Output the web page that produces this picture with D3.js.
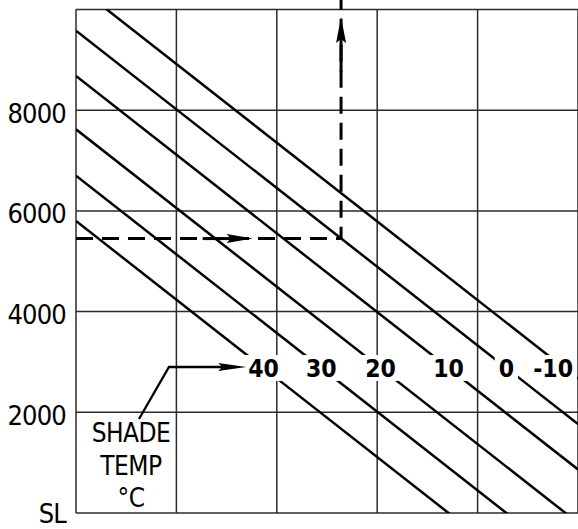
<!DOCTYPE html>
<html>
<head>
<meta charset="utf-8">
<script src="https://cdn.jsdelivr.net/npm/d3@7"></script>
<style>
  body { margin: 0; background: #fff; }
  svg { display: block; }
  text { font-family: "DejaVu Sans Condensed", "DejaVu Sans", sans-serif; font-stretch: condensed; fill: #000; }
</style>
</head>
<body>
<div id="chart"></div>
<script>
// altitude ticks (ft), SL = sea level
const altTicks = [0, 2000, 4000, 6000, 8000];
const altLabels = ["SL", "2000", "4000", "6000", "8000"];
const gridAlts = [0, 2000, 4000, 6000, 8000, 10000];
const gridCols = [0, 1, 2, 3, 4, 5];

// shade temperature lines (°C): altitude at left edge (col 0) and right edge (col 5)
const temps = [40, 30, 20, 10, 0, -10];
const altAtLeft = [5800, 6700, 7620, 8680, 9580, 10480];
const altAtRight = [-2015, -1115, -195, 865, 1765, 2665];
const labelAlt = 2880;

// example reading (dashed)
const readAlt = 5450;
const readCol = 2.64;
const hArrowCol = 1.76;
const vArrowAlt = 9850;

const W = 578, H = 529;
const margin = {top: 9.5, right: 0, bottom: 16, left: 76};

const svg = d3.select("#chart")
  .append("svg")
  .attr("width", W)
  .attr("height", H);

const x = d3.scaleLinear().domain([0, 5]).range([margin.left, W - margin.right]);
const y = d3.scaleLinear().domain([0, 10000]).range([H - margin.bottom, margin.top]);

// grid
svg.append("g")
  .selectAll("line")
  .data(gridAlts)
  .join("line")
  .attr("x1", x(0)).attr("x2", x(5))
  .attr("y1", d => y(d)).attr("y2", d => y(d))
  .attr("stroke", "#2b2b2b").attr("stroke-width", 1.5);

svg.append("g")
  .selectAll("line")
  .data(gridCols)
  .join("line")
  .attr("x1", d => x(d)).attr("x2", d => x(d))
  .attr("y1", y(0)).attr("y2", y(10000))
  .attr("stroke", "#2b2b2b").attr("stroke-width", 1.5);

// tick labels
svg.append("g")
  .selectAll("text")
  .data(altTicks)
  .join("text")
  .attr("x", x(0) - 10)
  .attr("y", d => Math.min(y(d) + 12.5, H - 6))
  .attr("text-anchor", "end")
  .style("font-size", "27px")
  .style("letter-spacing", "-0.8px")
  .text((d, i) => altLabels[i]);

// clip for diagonal lines
svg.append("clipPath").attr("id", "plot")
  .append("rect")
  .attr("x", x(0)).attr("y", y(10000))
  .attr("width", x(5) - x(0)).attr("height", y(0) - y(10000));

const lineData = temps.map((t, i) => ({t: t, a0: altAtLeft[i], a1: altAtRight[i]}));

svg.append("g")
  .attr("clip-path", "url(#plot)")
  .selectAll("line")
  .data(lineData)
  .join("line")
  .attr("x1", x(0)).attr("y1", d => y(d.a0))
  .attr("x2", x(5)).attr("y2", d => y(d.a1))
  .attr("stroke", "#000").attr("stroke-width", 2.5);

// temperature labels sitting on their lines
const fs = 24.5, capH = 0.73 * fs;
const lab = svg.append("g");
lineData.forEach(d => {
  const col = (d.a0 - labelAlt) / (d.a0 - d.a1) * 5;
  const g = lab.append("g");
  const bg = g.append("rect").attr("fill", "#fff");
  const txt = g.append("text")
    .attr("text-anchor", "middle")
    .style("font-size", fs + "px")
    .style("font-weight", "bold")
    .text(d.t);
  const w = txt.node().getComputedTextLength();
  const cx = Math.min(x(col), W - w / 2 - 5);
  const base = y(labelAlt) + capH / 2;
  txt.attr("x", cx).attr("y", base);
  bg.attr("x", cx - w / 2 - 4).attr("y", base - capH - 4)
    .attr("width", w + 8).attr("height", capH + 8);
  d.labelLeft = cx - w / 2;
});

// arrowhead helper (tip at 0,0 pointing right)
function arrowHead(g, tx, ty, angle, len, half) {
  g.append("path")
    .attr("d", `M0,0 L${-len},${-half} L${-len + 4},0 L${-len},${half} Z`)
    .attr("transform", `translate(${tx},${ty}) rotate(${angle})`)
    .attr("fill", "#000");
}

// leader from SHADE TEMP note to the 40 label
const lead = svg.append("g");
const tipX = lineData[0].labelLeft - 2;
const tipY = y(labelAlt) - 1;
lead.append("path")
  .attr("d", `M139,419 L169,${tipY} L${tipX - 20},${tipY}`)
  .attr("fill", "none").attr("stroke", "#000").attr("stroke-width", 2.3);
arrowHead(lead, tipX, tipY, 0, 28, 4);

// note text
const note = svg.append("text")
  .attr("text-anchor", "middle")
  .style("font-size", "26px")
  .style("letter-spacing", "-0.5px");
note.selectAll("tspan")
  .data(["SHADE", "TEMP", "°C"])
  .join("tspan")
  .attr("x", 131)
  .attr("y", (d, i) => 442 + i * 32.5)
  .text(d => d);

// dashed example reading
const ex = svg.append("g");
ex.append("path")
  .attr("d", `M${x(0)},${y(readAlt)} H${x(readCol)} V0`)
  .attr("fill", "none").attr("stroke", "#000")
  .attr("stroke-width", 3).attr("stroke-dasharray", "17 9");
ex.append("line")
  .attr("x1", x(hArrowCol) - 50).attr("x2", x(hArrowCol) - 20)
  .attr("y1", y(readAlt)).attr("y2", y(readAlt))
  .attr("stroke", "#000").attr("stroke-width", 3);
arrowHead(ex, x(hArrowCol), y(readAlt), 0, 26, 4.5);
ex.append("line")
  .attr("x1", x(readCol)).attr("x2", x(readCol))
  .attr("y1", y(vArrowAlt) + 20).attr("y2", y(vArrowAlt) + 55)
  .attr("stroke", "#000").attr("stroke-width", 3);
arrowHead(ex, x(readCol), y(vArrowAlt), -90, 26, 5);
</script>
</body>
</html>
